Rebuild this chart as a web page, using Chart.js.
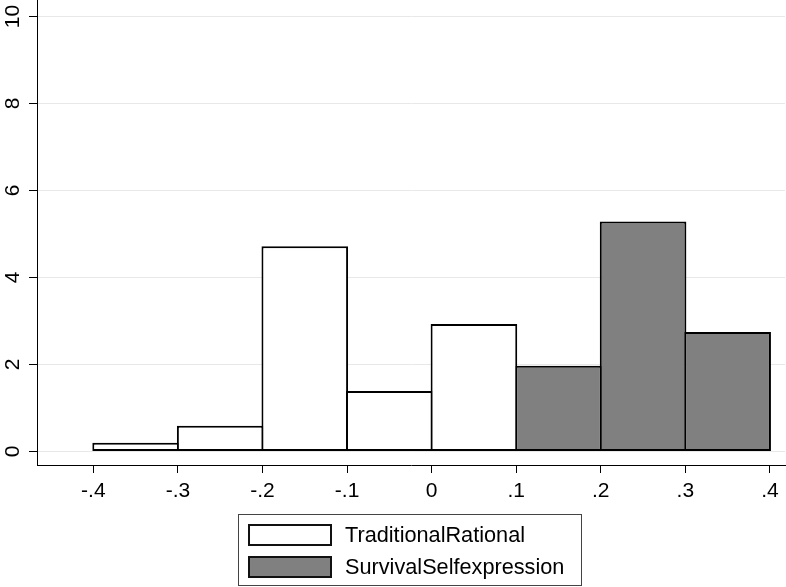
<!DOCTYPE html>
<html>
<head>
<meta charset="utf-8">
<script src="https://cdn.jsdelivr.net/npm/chart.js@4/dist/chart.umd.min.js"></script>
<style>
  html, body { margin: 0; padding: 0; background: #fff; }
  #wrap { position: relative; width: 786px; height: 587px; }
  canvas { position: absolute; left: 0; top: 0; }
  #legend { position: absolute; left: 238px; top: 514px; width: 344px; height: 72px;
    border: 1px solid #444; box-sizing: border-box; font-family: "Liberation Sans", Arial, sans-serif;
    font-size: 21.7px; color: #000; }
  .item { position: absolute; left: 9px; height: 22px; }
  .sw { position: absolute; left: 0; top: 0; width: 84px; height: 22px; box-sizing: border-box; border: 2px solid #111; }
  .lbl { position: absolute; left: 97px; top: -1px; white-space: nowrap; line-height: 24px; }
</style>
</head>
<body>
<div id="wrap">
  <canvas id="c" width="786" height="587"></canvas>
  <div id="legend"></div>
</div>
<script>
// Histogram bins (bin centres) and densities
const traditionalX = [-0.35, -0.25, -0.15, -0.05, 0.05];
const traditionalY = [0.2, 0.59, 4.72, 1.39, 2.93];
const survivalX = [0.15, 0.25, 0.35];
const survivalY = [1.97, 5.29, 2.75];
const seriesNames = ['TraditionalRational', 'SurvivalSelfexpression'];
const xTickValues = [-0.4, -0.3, -0.2, -0.1, 0, 0.1, 0.2, 0.3, 0.4];
const xTickLabels = ['-.4', '-.3', '-.2', '-.1', '0', '.1', '.2', '.3', '.4'];
const yTickValues = [0, 2, 4, 6, 8, 10];
const yTickLabels = ['0', '2', '4', '6', '8', '10'];
const fillColors = ['#ffffff', '#808080'];

Chart.defaults.font.family = '"Liberation Sans", Arial, sans-serif';
Chart.defaults.font.size = 21;
Chart.defaults.color = '#000';

function pts(xs, ys) { return xs.map((x, i) => ({ x: x, y: ys[i] })); }

const barCommon = {
  borderColor: '#000',
  borderWidth: 2,
  borderSkipped: false,
  barPercentage: 1.024,
  categoryPercentage: 1,
  grouped: false
};

new Chart(document.getElementById('c'), {
  type: 'bar',
  data: {
    datasets: [
      Object.assign({ label: seriesNames[0], data: pts(traditionalX, traditionalY), backgroundColor: fillColors[0] }, barCommon),
      Object.assign({ label: seriesNames[1], data: pts(survivalX, survivalY), backgroundColor: fillColors[1] }, barCommon)
    ]
  },
  options: {
    responsive: false,
    animation: false,
    layout: { padding: { left: 0, right: 1, top: 0, bottom: 82 } },
    plugins: { legend: { display: false }, tooltip: { enabled: false } },
    scales: {
      x: {
        type: 'linear',
        offset: false,
        min: -0.4666,
        max: 0.4178,
        afterBuildTicks: (s) => { s.ticks = xTickValues.map(v => ({ value: v })); },
        afterFit: (s) => { s.height = 40; s.paddingLeft = 0; s.paddingRight = 0; },
        ticks: {
          autoSkip: false,
          maxRotation: 0,
          padding: 6,
          callback: (v) => { const i = xTickValues.findIndex(t => Math.abs(t - v) < 1e-9); return i >= 0 ? xTickLabels[i] : ''; }
        },
        grid: { offset: false, drawOnChartArea: false, tickColor: '#000', tickLength: 8, lineWidth: 1 },
        border: { color: '#000', width: 1 }
      },
      y: {
        type: 'linear',
        min: -0.31,
        max: 10.38,
        afterBuildTicks: (s) => { s.ticks = yTickValues.map(v => ({ value: v })); },
        afterFit: (s) => { s.width = 37; s.paddingTop = 0; s.paddingBottom = 0; },
        ticks: {
          autoSkip: false,
          minRotation: 90,
          maxRotation: 90,
          crossAlign: 'center',
          padding: 4,
          callback: (v) => { const i = yTickValues.indexOf(v); return i >= 0 ? yTickLabels[i] : ''; }
        },
        grid: { color: '#e8e8e8', tickColor: '#000', tickLength: 8, lineWidth: 1 },
        border: { color: '#000', width: 1 }
      }
    }
  }
});

// Legend (real text)
const lg = document.getElementById('legend');
seriesNames.forEach((name, i) => {
  const it = document.createElement('div');
  it.className = 'item';
  it.style.top = (9 + i * 32) + 'px';
  const sw = document.createElement('div');
  sw.className = 'sw';
  sw.style.background = fillColors[i];
  const tx = document.createElement('div');
  tx.className = 'lbl';
  tx.textContent = name;
  it.appendChild(sw); it.appendChild(tx);
  lg.appendChild(it);
});
</script>
</body>
</html>
